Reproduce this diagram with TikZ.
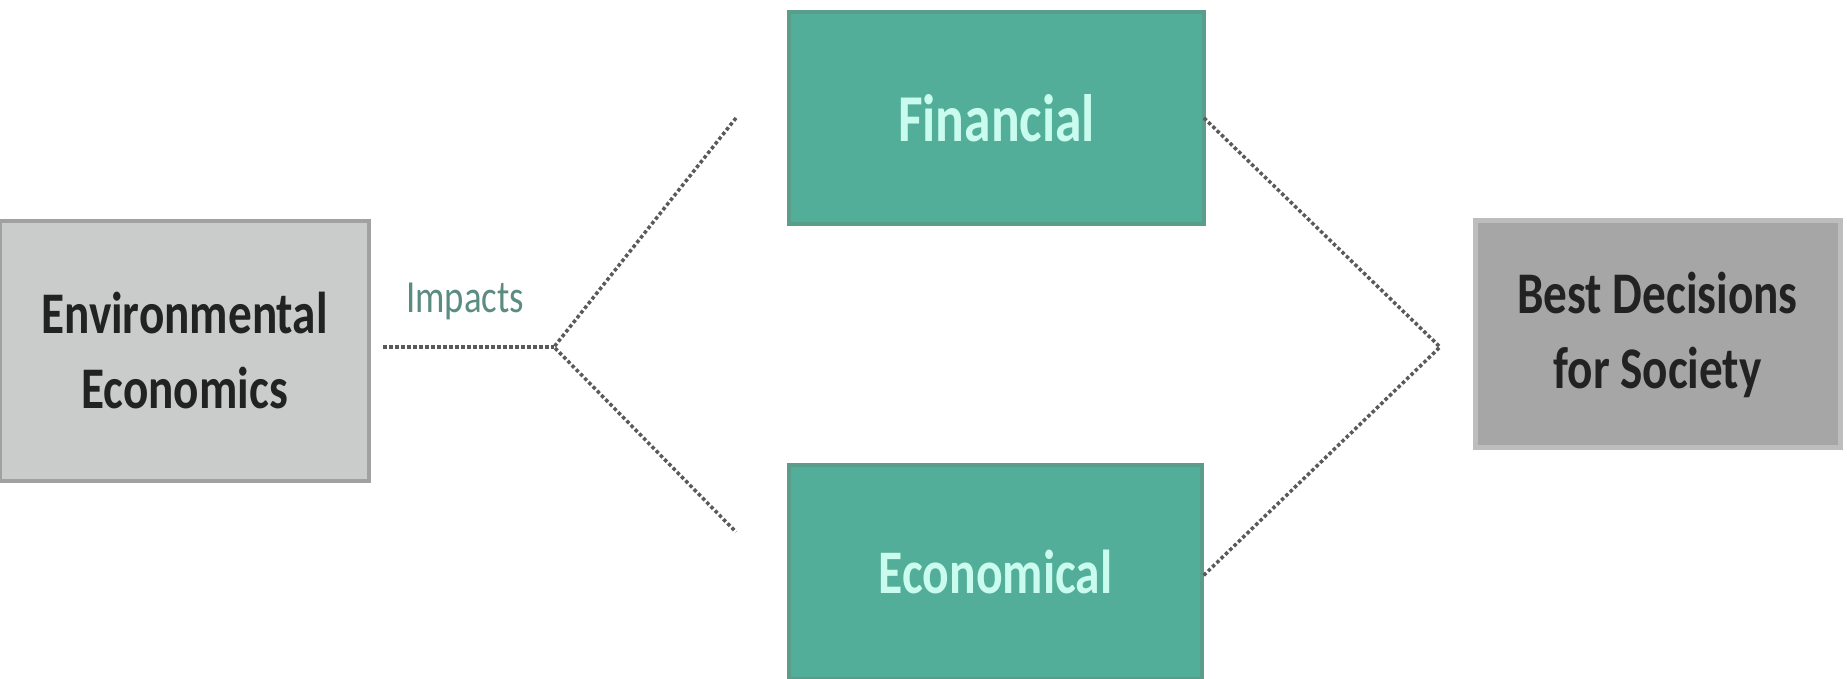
\documentclass[tikz,border=0pt]{standalone}
\usepackage{fontspec}
\setmainfont{Carlito}[FakeStretch=0.8]
\usetikzlibrary{calc}
\definecolor{envfill}{HTML}{C9CCCB}
\definecolor{envline}{HTML}{9FA2A1}
\definecolor{bestfill}{HTML}{A6A6A6}
\definecolor{bestline}{HTML}{BDBDBD}
\definecolor{grnfill}{HTML}{52AE98}
\definecolor{grnline}{HTML}{5B9D8B}
\definecolor{grntext}{HTML}{C9FBEF}
\definecolor{darktext}{HTML}{222222}
\definecolor{dotline}{HTML}{5A5A5A}
\definecolor{impcol}{HTML}{5B8C82}
\tikzset{
  graybox/.style={draw=envline, fill=envfill, line width=4pt, inner sep=0pt,
    text=darktext, font=\bfseries\fontsize{59}{75}\selectfont, align=center},
  bestbox/.style={draw=bestline, fill=bestfill, line width=5pt, inner sep=0pt,
    text=darktext, font=\bfseries\fontsize{59}{75}\selectfont, align=center},
  greenbox/.style={draw=grnline, fill=grnfill, line width=4pt, inner sep=0pt,
    text=grntext, font=\bfseries\fontsize{62}{75}\selectfont, align=center},
  dotconn/.style={draw=dotline, line width=3.5pt, dash pattern=on 3.5pt off 2.5pt},
}
\begin{document}
\begin{tikzpicture}[x=1pt,y=1pt]
\useasboundingbox[fill=white] (0,0) rectangle (1847,679);
\node[graybox, minimum width=369pt, minimum height=260pt] (env) at (184.5,328) {Environmental\\Economics};
\node[greenbox, minimum width=415pt, minimum height=212pt, font=\bfseries\fontsize{67}{75}\selectfont] (fin) at (996.5,561) {Financial};
\node[greenbox, minimum width=413pt, minimum height=214pt] (eco) at (995.5,107) {Economical};
\node[bestbox, minimum width=365pt, minimum height=227pt] (best) at (1657.5,344.5) {Best Decisions\\for Society};
\coordinate (jl) at (554,332);
\coordinate (jr) at (1440,332);
\coordinate (envout) at (383,332);
\coordinate (finin) at (736,561);
\coordinate (ecoin) at (736,147);
\coordinate (finout) at (1204,561);
\coordinate (ecoout) at (1202,102);
\draw[dotconn] (envout) -- (jl);
\draw[dotconn] (finin) -- (jl) -- (ecoin);
\draw[dotconn] (finout) -- (jr) -- (ecoout);
\node[text=impcol, font=\fontsize{46}{52}\selectfont, anchor=base] (imp) at (465,366) {Impacts};
\end{tikzpicture}
\end{document}
